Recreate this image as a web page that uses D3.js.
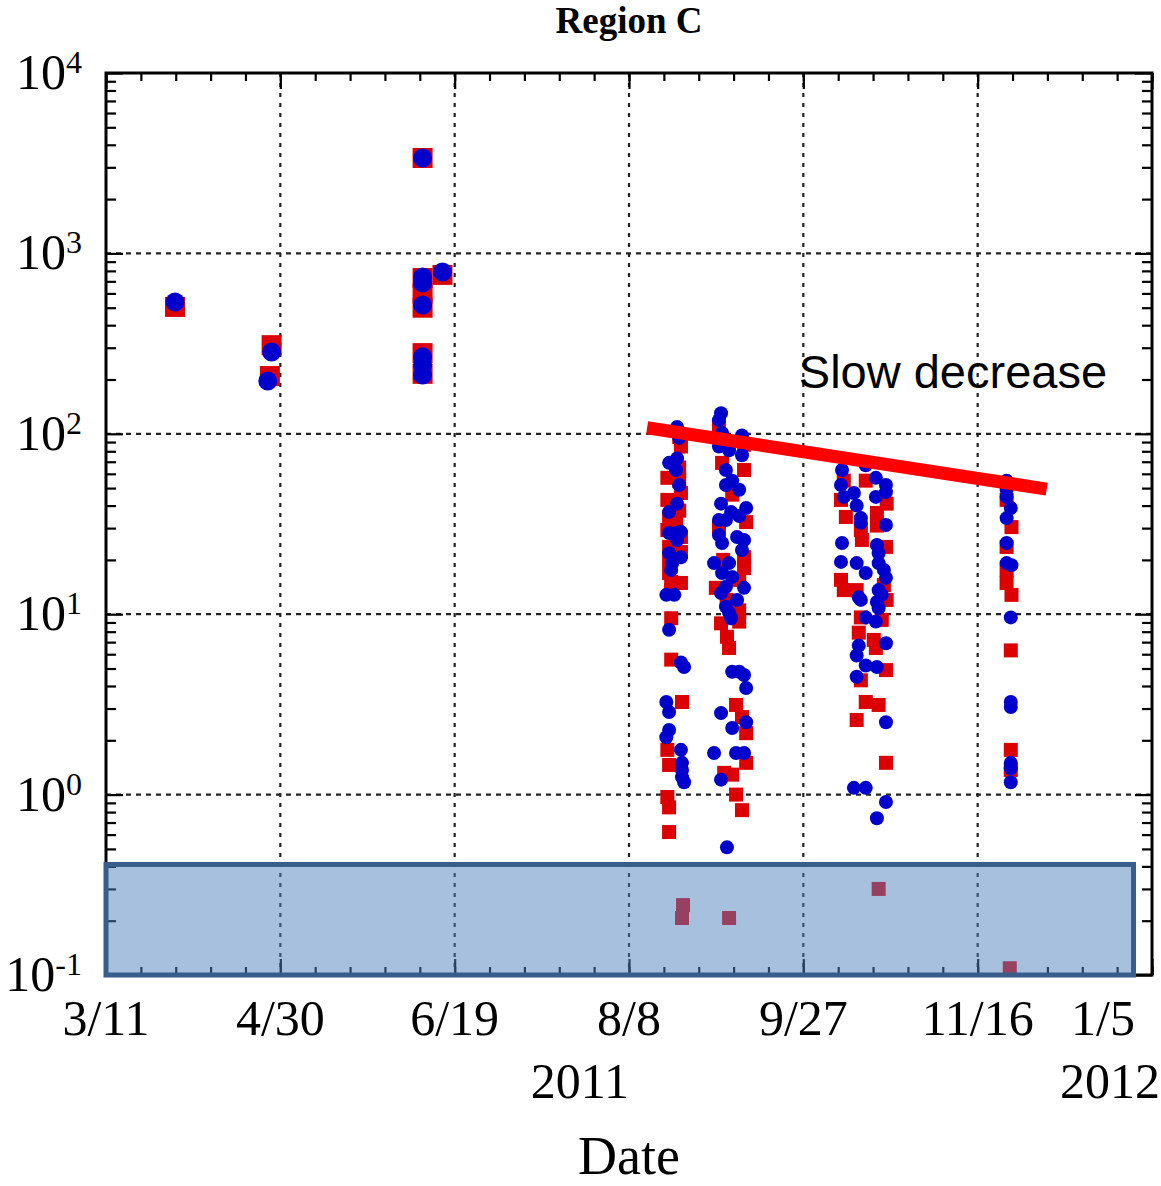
<!DOCTYPE html>
<html>
<head>
<meta charset="utf-8">
<script src="https://cdn.jsdelivr.net/npm/d3@7"></script>
<style>
body { margin: 0; background: #fff; }
</style>
</head>
<body>
<div id="chart"></div>
<script>

var earlyRed = [[19.8,505],[47.5,310],[47.0,209],[90.8,3380],[90.8,730],[90.8,600],[90.8,500],
    [90.8,280],[90.8,215],[96.5,760]];
var earlyBlue = [[19.8,538],[47.5,284],[46.4,196],[90.8,3380],[90.8,740],[90.8,685],[90.8,518],
    [90.8,267],[90.8,241],[90.8,212],[96.5,789]];

var lateRed = [
    // around 8/22
    [164.4,96],[164.9,85],[164.4,65],[161.0,57],[164.4,55],[164.9,47],[161.0,43],[164.4,37.5],
    [161.5,34.6],[163.5,32.1],[161.0,29.3],[164.9,26.8],[161.5,23.6],[164.9,22.1],[161.5,20.0],
    [161.5,16.9],[162.1,15.1],[164.9,14.9],[162.1,13.6],[162.1,9.5],[162.1,5.6],[165.2,3.26],
    [161.0,1.77],[161.5,1.46],[161.0,0.97],[161.5,0.85],[161.5,0.62],[165.5,0.244],[165.2,0.207],
    // around 9/5
    [175.8,109],[176.4,91],[183.0,87],[176.7,69],[183.0,63],[179.6,46],[183.6,32.4],[175.8,30.4],
    [177.0,20.0],[183.0,20.7],[183.0,18.0],[181.6,15.5],[174.9,14.0],[178.0,12.0],[181.6,10.5],
    [176.4,8.9],[181.6,9.1],[178.1,7.5],[178.7,6.5],[180.7,3.14],[182.4,2.69],[183.6,2.19],
    [183.6,1.50],[177.3,1.32],[179.6,1.29],[180.7,1.00],[182.4,0.82],[178.7,0.207],
    // around 10/18
    [217.9,55],[211.6,55],[210.8,43],[223.9,41],[212.2,34.6],[221.1,36.4],[221.1,31],[216.5,29.3],
    [216.8,25.8],[223.7,23.6],[210.8,15.5],[211.6,13.6],[215.3,13.6],[223.1,14.5],[223.9,12.0],
    [216.5,9.6],[222.5,9.3],[215.9,7.9],[220.2,7.2],[220.8,6.5],[223.7,4.9],[216.5,4.3],
    [217.9,3.26],[221.6,3.14],[215.3,2.59],[223.7,1.50],[221.6,0.30],
    // around 11/25
    [258.3,43],[259.7,30.4],[258.3,23.6],[258.3,17.6],[258.3,14.9],[259.7,12.8],[259.5,6.3],
    [259.5,1.77],[259.5,1.37],[259.2,0.109]
];

var lateBlue = [
    [163.8,109],[164.4,95],[163.8,73],[161.5,69],[163.5,63],[164.4,52],[163.8,41],[161.5,36.8],
    [161.5,28.2],[163.5,28.2],[164.9,28.6],[163.8,25.8],[161.5,21.8],[164.9,20.7],[162.4,19.2],
    [162.1,17.6],[160.7,12.8],[163.0,12.8],[161.5,8.2],[164.9,5.4],[165.8,5.1],[160.7,3.26],
    [161.5,2.87],[161.5,2.28],[160.7,2.08],[164.9,1.77],[165.2,1.50],[165.2,1.37],[165.2,1.25],
    [165.8,1.17],
    [176.4,130],[175.8,119],[176.7,101],[175.8,85],[178.7,81],[182.4,98],[182.4,76],[177.8,63],
    [179.6,55],[177.8,52],[181.6,49],[176.4,41],[183.6,38.8],[179.3,36.8],[175.8,33.3],[181.6,35],
    [177.8,33.3],[175.8,27.5],[181.0,26.8],[183.0,25.8],[176.7,24.8],[182.4,22.7],[174.4,19.2],
    [178.7,19.2],[176.7,16.9],[179.6,16.1],[177.8,14.2],[183.0,14.0],[176.4,13.1],[181.0,12.0],
    [177.8,11.0],[178.7,10.2],[179.3,9.5],[179.6,4.8],[181.6,4.8],[183.0,4.6],[183.6,3.9],
    [176.4,2.83],[183.6,2.52],[179.6,2.34],[174.4,1.70],[180.7,1.70],[183.0,1.70],[176.4,1.21],
    [178.1,0.51],
    [211.1,63],[217.9,67],[210.8,52],[220.8,57],[223.7,52],[211.6,44.7],[214.5,47],[220.8,44.7],
    [223.7,47.5],[215.3,40],[216.5,34.1],[216.5,32.1],[223.7,31.2],[211.1,24.8],[221.1,24.2],
    [221.6,21.8],[210.8,19.5],[215.3,19.2],[217.9,16.9],[221.6,19.2],[223.1,17.6],[223.7,15.9],
    [221.6,13.6],[215.9,12.4],[222.5,12.8],[216.5,12.0],[221.1,11.7],[221.6,10.8],[217.9,9.6],
    [220.8,9.1],[223.7,6.9],[215.9,6.7],[215.3,5.9],[217.9,5.2],[221.1,5.1],[215.3,4.5],
    [223.7,2.52],[214.5,1.09],[217.9,1.09],[223.7,0.91],[221.1,0.74],
    [258.3,55],[258.3,49],[258.3,44.7],[259.5,38.8],[258.3,34.1],[258.3,24.8],[258.3,19.2],
    [259.7,18.7],[259.5,9.6],[259.5,3.26],[259.5,3.06],[259.5,1.50],[259.5,1.40],[259.5,1.17]
];

// red trend line and shaded band
var trendDays = [155.2, 269.8];
var trendVals = [108, 49.4];
var shadeDays = [0, 294.7];
var shadeVals = [0.1, 0.41];
var noteText = "Slow decrease";
var notePos = [198.7, 179];

var majorDays = [0, 50, 100, 150, 200, 250, 300];
var decades = [-1, 0, 1, 2, 3, 4];

var width = 1161, height = 1186;
var plotL = 106, plotR = 1152, plotT = 73, plotB = 975;
var serif = "'Liberation Serif', 'Times New Roman', serif";

var day0 = Date.UTC(2011, 2, 11);
function toDate(d) { return new Date(day0 + d * 864e5); }

var x = d3.scaleUtc().domain([toDate(0), toDate(300)]).range([plotL, plotR]);
var y = d3.scaleLog().domain([0.1, 1e4]).range([plotB, plotT]);

var svg = d3.select("#chart")
    .append("svg")
    .attr("width", width)
    .attr("height", height);

// dotted grid
var majorDates = majorDays.map(toDate);
svg.append("g").selectAll("line")
    .data(majorDates.slice(1, -1))
    .enter().append("line")
    .attr("x1", d => x(d)).attr("x2", d => x(d))
    .attr("y1", plotT).attr("y2", plotB)
    .attr("stroke", "#222").attr("stroke-width", 2.2)
    .attr("stroke-dasharray", "4,6");

svg.append("g").selectAll("line")
    .data(decades.slice(1, -1).map(k => Math.pow(10, k)))
    .enter().append("line")
    .attr("x1", plotL).attr("x2", plotR)
    .attr("y1", d => y(d)).attr("y2", d => y(d))
    .attr("stroke", "#222").attr("stroke-width", 2.2)
    .attr("stroke-dasharray", "5,5");

// ticks on all four sides, pointing inward
var minorDates = d3.range(0, 301, 10).map(toDate);
var minorVals = [];
decades.slice(0, -1).forEach(function (k) {
    for (var m = 2; m <= 9; m++) minorVals.push(m * Math.pow(10, k));
});
var majorVals = decades.map(k => Math.pow(10, k));

function ticks(axis, tx, ty) {
    var g = svg.append("g").attr("transform", "translate(" + tx + "," + ty + ")").call(axis);
    g.select(".domain").remove();
    g.selectAll("line").attr("stroke", "#000").attr("stroke-width", 2.2);
}
ticks(d3.axisBottom(x).tickValues(minorDates).tickSize(-8).tickFormat(""), 0, plotB);
ticks(d3.axisBottom(x).tickValues(majorDates).tickSize(-16).tickFormat(""), 0, plotB);
ticks(d3.axisTop(x).tickValues(minorDates).tickSize(-8).tickFormat(""), 0, plotT);
ticks(d3.axisTop(x).tickValues(majorDates).tickSize(-16).tickFormat(""), 0, plotT);
ticks(d3.axisLeft(y).tickValues(minorVals).tickSize(-10).tickFormat(""), plotL, 0);
ticks(d3.axisLeft(y).tickValues(majorVals).tickSize(-17).tickFormat(""), plotL, 0);
ticks(d3.axisRight(y).tickValues(minorVals).tickSize(-10).tickFormat(""), plotR, 0);
ticks(d3.axisRight(y).tickValues(majorVals).tickSize(-17).tickFormat(""), plotR, 0);

svg.append("rect")
    .attr("x", plotL).attr("y", plotT)
    .attr("width", plotR - plotL).attr("height", plotB - plotT)
    .attr("fill", "none").attr("stroke", "#000").attr("stroke-width", 3);

// markers
function squares(data, size) {
    svg.append("g").selectAll("rect")
        .data(data).enter().append("rect")
        .attr("x", d => x(toDate(d[0])) - size / 2)
        .attr("y", d => y(d[1]) - size / 2)
        .attr("width", size).attr("height", size)
        .attr("fill", "#dd0000");
}
function circles(data, r) {
    svg.append("g").selectAll("circle")
        .data(data).enter().append("circle")
        .attr("cx", d => x(toDate(d[0])))
        .attr("cy", d => y(d[1]))
        .attr("r", r)
        .attr("fill", "#0000cc");
}
squares(earlyRed, 20);
squares(lateRed, 14);
circles(earlyBlue, 9.5);
circles(lateBlue, 7);

// shaded band at the bottom
svg.append("rect")
    .attr("x", x(toDate(shadeDays[0])))
    .attr("y", y(shadeVals[1]))
    .attr("width", x(toDate(shadeDays[1])) - x(toDate(shadeDays[0])))
    .attr("height", y(shadeVals[0]) - y(shadeVals[1]))
    .attr("fill", "#4f81bd").attr("fill-opacity", 0.5)
    .attr("stroke", "#385d8a").attr("stroke-width", 5);

// trend line + note
svg.append("line")
    .attr("x1", x(toDate(trendDays[0]))).attr("y1", y(trendVals[0]))
    .attr("x2", x(toDate(trendDays[1]))).attr("y2", y(trendVals[1]))
    .attr("stroke", "#ff0000").attr("stroke-width", 13);

svg.append("text")
    .attr("x", x(toDate(notePos[0]))).attr("y", y(notePos[1]))
    .attr("font-family", "'Liberation Sans', Arial, sans-serif")
    .attr("font-size", 47)
    .text(noteText);

// labels; the last date label is pulled inside the frame as in the original
var fmt = d3.utcFormat("%-m/%-d");
svg.append("g").selectAll("text")
    .data(majorDates).enter().append("text")
    .attr("x", (d, i) => i === majorDates.length - 1 ? x(d) - 17 : x(d))
    .attr("y", 1035)
    .attr("text-anchor", (d, i) => i === majorDates.length - 1 ? "end" : "middle")
    .attr("font-family", serif).attr("font-size", 50)
    .text(d => fmt(d));

svg.append("text").attr("x", x(toDate(150))).attr("y", 1098)
    .attr("text-anchor", "end").attr("font-family", serif).attr("font-size", 50)
    .text("2011");
svg.append("text").attr("x", x(toDate(300)) + 8).attr("y", 1098)
    .attr("text-anchor", "end").attr("font-family", serif).attr("font-size", 50)
    .text("2012");

var ylab = svg.append("g").selectAll("text")
    .data(decades).enter().append("text")
    .attr("x", 82).attr("y", d => y(Math.pow(10, d)) + 16)
    .attr("text-anchor", "end")
    .attr("font-family", serif).attr("font-size", 50);
ylab.append("tspan").text("10");
ylab.append("tspan").attr("font-size", 32).attr("dy", -16).text(d => d);

svg.append("text").attr("x", (plotL + plotR) / 2).attr("y", 1174)
    .attr("text-anchor", "middle").attr("font-family", serif).attr("font-size", 54)
    .text("Date");

svg.append("text").attr("x", (plotL + plotR) / 2).attr("y", 33)
    .attr("text-anchor", "middle").attr("font-family", serif).attr("font-size", 37)
    .attr("font-weight", "bold")
    .text("Region C");
</script>
</body>
</html>
